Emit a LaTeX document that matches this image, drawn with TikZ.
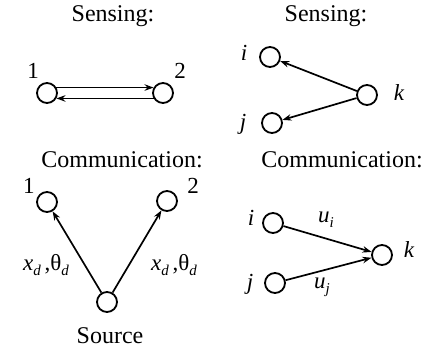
\documentclass[tikz,border=0pt]{standalone}
\usepackage{fontspec}
\setmainfont{Liberation Serif}
\usetikzlibrary{arrows.meta}
\newcommand{\sbs}[1]{\raisebox{-0.45ex}{\fontsize{15}{16}\selectfont\itshape #1}}
\begin{document}
\begin{tikzpicture}[x=1pt,y=-1pt,
  vtx/.style={circle,draw,line width=1.8pt,minimum size=20pt,inner sep=0pt},
  ttl/.style={font=\fontsize{24}{28}\selectfont},
  lbl/.style={font=\fontsize{23}{26}\selectfont},
  arr/.style={line width=1.7pt,-{Stealth[length=9pt,width=6.5pt]}}]
\useasboundingbox (0,0) rectangle (433,352);
% top-left
\node[ttl] (t1) at (113,16) {Sensing:};
\node[vtx] (a1) at (47,93) {};
\node[vtx] (a2) at (163,93) {};
\node[lbl] (la1) at (33,71) {1};
\node[lbl] (la2) at (180,71) {2};
\draw[arr] (a1.30) -- (a2.150);
\draw[arr] (a2.-150) -- (a1.-30);
% top-right
\node[ttl] (t2) at (326,16) {Sensing:};
\node[vtx] (bi) at (270,57) {};
\node[vtx] (bj) at (272,123) {};
\node[vtx] (bk) at (367,95) {};
\node[lbl] (lbi) at (244,53) {\itshape i};
\node[lbl] (lbj) at (243,124) {\itshape j};
\node[lbl] (lbk) at (399,93) {\itshape k};
\draw[arr] (bk) -- (bi);
\draw[arr] (bk) -- (bj);
% bottom-left
\node[ttl] (t3) at (122,160) {Communication:};
\node[vtx] (c1) at (47,202) {};
\node[vtx] (c2) at (167,201) {};
\node[vtx] (cs) at (107,302) {};
\node[lbl] (lc1) at (29,186) {1};
\node[lbl] (lc2) at (193,186) {2};
\node[ttl] (lcs) at (110,336) {Source};
\draw[arr] (cs) -- (c1);
\draw[arr] (cs) -- (c2);
\node[lbl] (e1) at (46,265) {\itshape x\sbs{d}\,\upshape,θ\sbs{d}};
\node[lbl] (e2) at (174,265) {\itshape x\sbs{d}\,\upshape,θ\sbs{d}};
% bottom-right
\node[ttl] (t4) at (342,160) {Communication:};
\node[vtx] (di) at (273,223) {};
\node[vtx] (dj) at (275,283) {};
\node[vtx] (dk) at (382,255) {};
\node[lbl] (ldi) at (251,218) {\itshape i};
\node[lbl] (ldj) at (250,284) {\itshape j};
\node[lbl] (ldk) at (409,250) {\itshape k};
\draw[arr] (di) -- (dk);
\draw[arr] (dj) -- (dk);
\node[lbl] (ui) at (326,220) {\itshape u\sbs{i}};
\node[lbl] (uj) at (322,287) {\itshape u\sbs{j}};
\end{tikzpicture}
\end{document}
